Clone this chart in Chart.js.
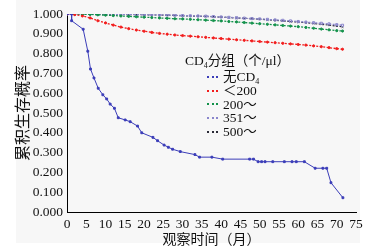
<!DOCTYPE html>
<html>
<head>
<meta charset="utf-8">
<script src="https://cdn.jsdelivr.net/npm/chart.js@4/dist/chart.umd.min.js"></script>
<style>
  html, body { margin: 0; padding: 0; background: #fff; }
  #wrap { position: relative; width: 376px; height: 249px; }
  #bg { position: absolute; left: 16px; top: 0; width: 344px; height: 243px; background: #f7f7f7; }
  #chart { position: absolute; left: 0; top: 0; }
  #legend { position: absolute; left: 185px; top: 52px; font-family: 'Liberation Serif', 'Noto Sans CJK SC', serif; font-size: 13.5px; color: #111; }
  #legend .title { height: 18px; line-height: 18px; }
  #legend .row { height: 13.75px; line-height: 13.75px; padding-left: 22px; white-space: nowrap; }
  #legend .swatch { display: inline-block; width: 11px; vertical-align: middle; margin-right: 5px; border-top: 2px dotted; position: relative; top: -1px; }
  sub { font-size: 8px; vertical-align: -3px; }
</style>
</head>
<body>
<div id="wrap">
  <div id="bg"></div>
  <canvas id="chart" width="376" height="249"></canvas>
  <div id="legend"></div>
</div>
<script>
// ---- datos ----
const seriesNames = ['无CD<sub>4</sub>', '＜200', '200～', '351～', '500～'];
const seriesColors = ['#3b3db8', '#f21c1c', '#12914a', '#8a86cc', '#2a2a36'];

// 无CD4 (Kaplan-Meier, puntos irregulares)
const noCd4Months = [0, 1.2, 1.2, 4.2, 5.4, 6.1, 7.0, 8.1, 9.3, 10.3, 11.2, 12.3, 13.3, 15.1, 16.4, 18.3, 19.4, 22.3, 23.5, 25.2, 26.3, 27.4, 29.4, 33.2, 34.4, 37.6, 40.4, 47.4, 48.4, 49.6, 50.5, 51.4, 53.4, 56.4, 58.4, 59.5, 61.6, 64.4, 66.4, 67.4, 68.5, 71.6];
const noCd4Surv = [1.0, 1.0, 0.966, 0.923, 0.812, 0.722, 0.677, 0.625, 0.592, 0.571, 0.545, 0.524, 0.476, 0.465, 0.456, 0.434, 0.400, 0.377, 0.360, 0.338, 0.327, 0.317, 0.305, 0.290, 0.277, 0.277, 0.267, 0.267, 0.267, 0.254, 0.254, 0.254, 0.254, 0.254, 0.254, 0.254, 0.254, 0.221, 0.221, 0.221, 0.148, 0.072];

// las otras cuatro curvas
const months = [0, 2, 4, 6, 8, 10, 12, 14, 16, 18, 20, 22, 24, 26, 28, 30, 32, 34, 36, 38, 40, 42, 44, 46, 48, 50, 52, 54, 56, 58, 60, 62, 64, 66, 68, 70, 71.5];
const survLt200 = [1.0, 0.997, 0.990, 0.980, 0.966, 0.955, 0.944, 0.934, 0.926, 0.919, 0.913, 0.907, 0.902, 0.898, 0.894, 0.891, 0.888, 0.885, 0.882, 0.879, 0.876, 0.873, 0.870, 0.867, 0.864, 0.861, 0.858, 0.855, 0.852, 0.849, 0.846, 0.843, 0.839, 0.835, 0.830, 0.825, 0.822];
const surv200 = [1.0, 1.0, 0.999, 0.998, 0.996, 0.994, 0.992, 0.990, 0.988, 0.986, 0.984, 0.982, 0.980, 0.978, 0.976, 0.975, 0.973, 0.971, 0.969, 0.967, 0.965, 0.962, 0.960, 0.957, 0.954, 0.951, 0.948, 0.945, 0.942, 0.939, 0.936, 0.932, 0.928, 0.924, 0.920, 0.916, 0.914];
const surv351 = [1.0, 1.0, 1.0, 1.0, 0.999, 0.999, 0.999, 0.998, 0.998, 0.998, 0.997, 0.996, 0.996, 0.995, 0.994, 0.992, 0.991, 0.990, 0.989, 0.987, 0.985, 0.983, 0.981, 0.979, 0.977, 0.975, 0.973, 0.970, 0.968, 0.965, 0.962, 0.959, 0.956, 0.953, 0.950, 0.946, 0.943];
const surv500 = [1.0, 1.0, 1.0, 1.0, 0.999, 0.999, 0.998, 0.998, 0.997, 0.997, 0.996, 0.995, 0.995, 0.994, 0.993, 0.991, 0.990, 0.989, 0.988, 0.986, 0.984, 0.982, 0.980, 0.978, 0.976, 0.974, 0.971, 0.968, 0.965, 0.962, 0.959, 0.956, 0.952, 0.948, 0.944, 0.939, 0.935];

const yTicks = [0, 0.1, 0.2, 0.3, 0.4, 0.5, 0.6, 0.7, 0.8, 0.9, 1.0];

const fontFam = "'Liberation Serif', 'Noto Sans CJK SC', serif";

function toPoints(xs, ys) {
    return xs.map((x, i) => ({ x: x, y: ys[i] }));
}

const ctx = document.getElementById('chart');

const datasets = [
    { data: toPoints(noCd4Months, noCd4Surv), borderColor: seriesColors[0], backgroundColor: seriesColors[0], borderWidth: 1, pointRadius: 1.3, pointStyle: 'rect' },
    { data: toPoints(months, survLt200), borderColor: seriesColors[1], backgroundColor: seriesColors[1], borderWidth: 1.3, borderDash: [2, 1.5], pointRadius: 1.1 },
    { data: toPoints(months, surv200), borderColor: seriesColors[2], backgroundColor: seriesColors[2], borderWidth: 1.3, borderDash: [2, 1.5], pointRadius: 1.1 },
    { data: toPoints(months, surv351), borderColor: seriesColors[3], backgroundColor: 'rgba(0,0,0,0)', borderWidth: 1.3, borderDash: [2, 1.5], pointRadius: 1.5, pointStyle: 'rect' },
    { data: toPoints(months, surv500), borderColor: seriesColors[4], backgroundColor: seriesColors[4], borderWidth: 1.2, borderDash: [2, 1.5], pointRadius: 1.2, pointStyle: 'crossRot' }
];

const chart = new Chart(ctx, {
    type: 'scatter',
    data: { datasets: datasets.map(d => Object.assign({ showLine: true, tension: 0, pointBorderWidth: 1, pointHoverRadius: 1 }, d)) },
    options: {
        responsive: false,
        animation: false,
        events: [],
        layout: { padding: { left: 0, top: 14, right: 20, bottom: 0 } },
        plugins: { legend: { display: false }, tooltip: { enabled: false } },
        scales: {
            x: {
                type: 'linear',
                min: 0,
                max: 75,
                border: { color: '#000', width: 1 },
                grid: { display: false, drawTicks: true, tickLength: 3, tickColor: '#000', drawOnChartArea: false },
                ticks: { stepSize: 5, color: '#111', padding: 1, maxRotation: 0, font: { family: fontFam, size: 13.5 } },
                title: { display: true, text: '观察时间（月）', color: '#111', padding: { top: 0, bottom: 0 }, font: { family: fontFam, size: 14 } },
                afterFit: (scale) => { scale.height = 37; }
            },
            y: {
                type: 'linear',
                min: 0,
                max: 1,
                border: { color: '#000', width: 1 },
                grid: { display: false, drawTicks: true, tickLength: 3, tickColor: '#000', drawOnChartArea: false },
                afterBuildTicks: (scale) => { scale.ticks = yTicks.map(v => ({ value: v })); },
                ticks: { color: '#111', padding: 1, callback: (v) => v.toFixed(3), font: { family: fontFam, size: 13.5 } },
                title: { display: true, text: '累积生存概率', color: '#111', padding: { top: 14, bottom: 2 }, font: { family: fontFam, size: 16 } },
                afterFit: (scale) => { scale.width = 67; }
            }
        }
    }
});

// leyenda en HTML dentro del área del gráfico
const legendEl = document.getElementById('legend');
let html = '<div class="title">CD<sub>4</sub>分组（个/μl）</div>';
seriesNames.forEach((name, i) => {
    html += '<div class="row"><span class="swatch" style="border-top-color:' + seriesColors[i] + '"></span>' + name + '</div>';
});
legendEl.innerHTML = html;
</script>
</body>
</html>
